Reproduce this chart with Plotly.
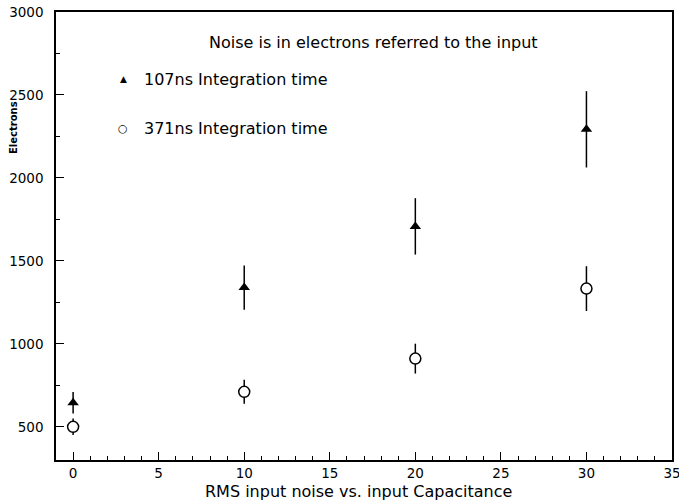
import plotly.graph_objects as go

x_cap = [0, 10, 20, 30]
noise_107 = [645, 1339, 1708, 2293]
err_107 = [65, 133, 170, 230]
noise_371 = [500, 711, 911, 1333]
err_371 = [50, 72, 90, 135]

FONT = "DejaVu Sans"

fig = go.Figure()
fig.add_trace(go.Scatter(
    x=x_cap, y=noise_107, mode="markers",
    marker=dict(symbol="triangle-up", size=10, color="black"),
    error_y=dict(type="data", array=err_107, width=0, thickness=1.5, color="black"),
    showlegend=False))
fig.add_trace(go.Scatter(
    x=x_cap, y=noise_371, mode="markers",
    marker=dict(symbol="circle", size=11, color="white", line=dict(width=1.5, color="black")),
    error_y=dict(type="data", array=err_371, width=0, thickness=1.5, color="black"),
    showlegend=False))

axis_common = dict(
    showline=True, linecolor="black", linewidth=1.5, mirror=True,
    ticks="inside", ticklen=8, tickwidth=1, tickcolor="black",
    showgrid=False, zeroline=False, automargin=False,
    ticklabeloverflow="allow",
    tickfont=dict(family=FONT, size=13.5, color="black"),
)
fig.update_xaxes(range=[-1, 35], tick0=0, dtick=5,
                 minor=dict(ticks="inside", ticklen=4, dtick=1, tickcolor="black"),
                 **axis_common)
fig.update_yaxes(range=[300, 3000], tick0=0, dtick=500,
                 minor=dict(ticks="inside", ticklen=4, dtick=250, tickcolor="black"),
                 ticklabelstandoff=8,
                 **axis_common)

annotations = [
    dict(text="Noise is in electrons referred to the input", x=0.515, y=0.933,
         xref="paper", yref="paper", showarrow=False, xanchor="center", yanchor="middle",
         font=dict(family=FONT, size=16, color="black")),
    dict(text="▲", x=0.109, y=0.850, xref="paper", yref="paper", showarrow=False,
         xanchor="center", yanchor="middle", font=dict(family=FONT, size=9, color="black")),
    dict(text="107ns Integration time", x=0.1396, y=0.850, xref="paper", yref="paper",
         showarrow=False, xanchor="left", yanchor="middle",
         font=dict(family=FONT, size=16, color="black")),
    dict(text="○", x=0.109, y=0.739, xref="paper", yref="paper", showarrow=False,
         xanchor="center", yanchor="middle", font=dict(family=FONT, size=11, color="black")),
    dict(text="371ns Integration time", x=0.1396, y=0.739, xref="paper", yref="paper",
         showarrow=False, xanchor="left", yanchor="middle",
         font=dict(family=FONT, size=16, color="black")),
    dict(text="RMS input noise vs. input Capacitance", x=0.491, y=-0.07,
         xref="paper", yref="paper", showarrow=False, xanchor="center", yanchor="middle",
         font=dict(family=FONT, size=16, color="black")),
    dict(text="<b>Electrons</b>", x=-0.0698, y=0.741, xref="paper", yref="paper",
         showarrow=False, textangle=-90, xanchor="center", yanchor="middle",
         font=dict(family=FONT, size=10, color="black")),
]

fig.update_layout(
    width=679, height=501,
    margin=dict(l=56, r=7, t=12, b=41),
    paper_bgcolor="white", plot_bgcolor="white",
    annotations=annotations,
    showlegend=False,
)

fig.write_html("out.html")
